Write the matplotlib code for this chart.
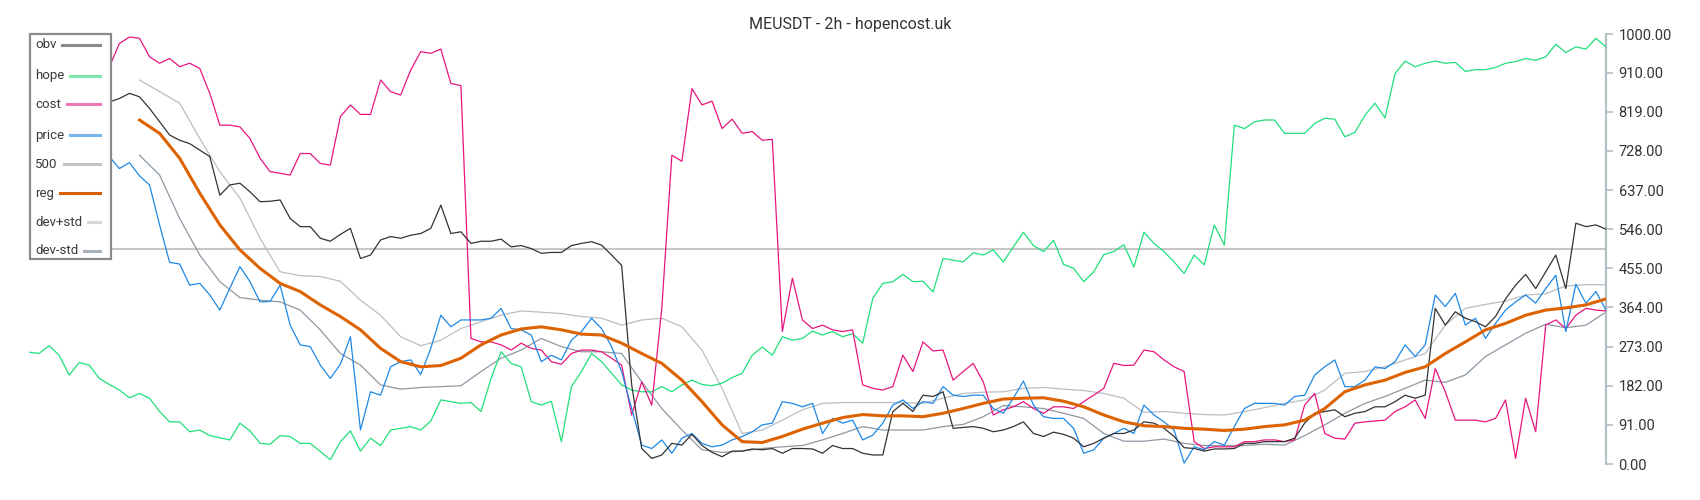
import matplotlib
matplotlib.use('Agg')
import matplotlib.pyplot as plt
import numpy as np
from matplotlib.lines import Line2D
from matplotlib.patches import Rectangle

plt.rcParams['font.family'] = ['Roboto', 'DejaVu Sans']

# Dữ liệu (mỗi điểm ~ 1 nến 2h, lấy mẫu thưa)
hope = [260, 257, 275, 253, 207, 236, 230, 199, 185, 172,
        154, 164, 153, 122, 98, 98, 75, 79, 66, 61,
        56, 95, 77, 48, 46, 66, 64, 48, 48, 29,
        10, 52, 77, 30, 60, 43, 79, 83, 87, 79,
        100, 149, 145, 141, 143, 122, 199, 261, 234, 226,
        145, 137, 146, 52, 180, 215, 257, 238, 211, 184,
        172, 168, 168, 180, 168, 184, 195, 185, 182, 188,
        201, 211, 253, 272, 253, 296, 288, 292, 309, 300,
        308, 296, 303, 281, 385, 420, 424, 441, 424, 425,
        400, 478, 474, 470, 491, 486, 498, 470, 505, 539,
        508, 494, 520, 464, 455, 424, 447, 487, 494, 510,
        458, 539, 513, 494, 470, 443, 486, 463, 556, 509,
        788, 780, 796, 800, 800, 769, 769, 769, 792, 804,
        802, 761, 771, 811, 839, 805, 908, 937, 924, 932,
        937, 932, 934, 913, 917, 917, 922, 932, 936, 943,
        939, 947, 976, 957, 970, 965, 990, 970]

cost = [860, 875, 890, 905, 900, 915, 930, 920, 924, 978,
        993, 990, 947, 932, 943, 924, 932, 920, 862, 788,
        788, 784, 757, 711, 680, 676, 672, 722, 722, 699,
        695, 808, 835, 813, 813, 893, 866, 858, 916, 959,
        955, 965, 885, 880, 292, 284, 284, 277, 265, 281,
        269, 265, 238, 232, 257, 265, 265, 261, 246, 230,
        114, 191, 137, 362, 718, 704, 873, 835, 844, 780,
        802, 769, 773, 753, 755, 308, 432, 335, 315, 323,
        312, 308, 312, 184, 176, 172, 180, 253, 215, 284,
        263, 265, 195, 215, 234, 191, 114, 126, 133, 145,
        129, 118, 133, 133, 129, 145, 160, 176, 234, 229,
        230, 265, 261, 242, 226, 215, 52, 36, 40, 40,
        40, 52, 52, 56, 56, 52, 56, 137, 164, 71,
        60, 58, 95, 98, 100, 102, 122, 133, 149, 106,
        222, 168, 102, 102, 102, 98, 106, 149, 13, 153,
        75, 323, 335, 315, 346, 362, 358, 356]

price = [740, 735, 745, 730, 725, 735, 720, 718, 715, 687,
         701, 670, 649, 556, 469, 465, 416, 420, 393, 358,
         409, 459, 424, 377, 378, 416, 323, 277, 273, 230,
         199, 232, 296, 79, 168, 160, 226, 238, 242, 208,
         269, 346, 319, 335, 335, 335, 339, 362, 315, 312,
         300, 238, 253, 242, 288, 308, 339, 315, 273, 215,
         129, 44, 36, 56, 25, 60, 71, 48, 40, 44,
         56, 64, 75, 91, 95, 145, 141, 133, 141, 71,
         106, 95, 102, 56, 67, 95, 137, 149, 129, 145,
         141, 180, 160, 157, 160, 160, 129, 118, 153, 193,
         137, 110, 106, 106, 83, 25, 33, 60, 71, 83,
         71, 137, 114, 98, 79, 2, 40, 33, 52, 44,
         87, 129, 141, 141, 141, 137, 157, 160, 207, 226,
         242, 180, 180, 195, 226, 222, 238, 277, 250, 277,
         393, 366, 397, 323, 339, 292, 327, 358, 377, 393,
         374, 408, 439, 308, 418, 374, 401, 358]

obv = [830, 845, 860, 850, 835, 845, 855, 848, 842, 850,
       862, 854, 827, 796, 765, 753, 745, 730, 715, 625,
       649, 653, 633, 610, 611, 614, 571, 552, 552, 525,
       518, 534, 548, 478, 486, 521, 529, 525, 532, 536,
       548, 602, 536, 540, 513, 518, 518, 523, 505, 508,
       501, 490, 492, 492, 508, 513, 517, 509, 486, 462,
       184, 36, 13, 21, 48, 44, 69, 43, 27, 17,
       30, 30, 35, 33, 36, 25, 36, 36, 35, 25,
       43, 36, 36, 25, 21, 21, 122, 141, 122, 160,
       157, 168, 83, 85, 87, 83, 75, 79, 87, 98,
       71, 64, 74, 69, 60, 40, 48, 60, 71, 71,
       79, 98, 95, 83, 64, 38, 36, 30, 35, 35,
       36, 48, 48, 52, 52, 52, 60, 95, 118, 122,
       126, 110, 118, 122, 133, 133, 145, 160, 153, 160,
       362, 323, 354, 339, 331, 319, 343, 384, 416, 441,
       408, 447, 486, 408, 560, 552, 556, 546]

level_500 = 500

# Đường hồi quy và dải độ lệch (bắt đầu từ nến 11, mỗi 2 nến)
reg = [800, 769, 711, 630, 556, 498, 455, 420, 401, 370,
       343, 312, 269, 238, 226, 229, 246, 277, 300, 314,
       319, 312, 302, 300, 281, 257, 234, 195, 145, 91,
       52, 50, 64, 81, 95, 108, 115, 112, 112, 110,
       118, 129, 141, 151, 153, 154, 146, 133, 114, 98,
       89, 87, 83, 81, 78, 81, 87, 91, 102, 129,
       168, 184, 195, 213, 226, 257, 284, 312, 327, 346,
       358, 363, 370, 384]

dev_plus = [893, 866, 839, 757, 680, 618, 525, 447, 438, 436,
            425, 381, 346, 296, 275, 288, 315, 331, 346, 356,
            353, 350, 343, 339, 323, 335, 339, 319, 265, 176,
            71, 79, 102, 126, 141, 143, 143, 143, 143, 141,
            153, 164, 167, 168, 176, 178, 174, 171, 164, 153,
            120, 122, 118, 115, 114, 122, 131, 141, 149, 172,
            211, 215, 226, 242, 257, 323, 362, 371, 379, 393,
            396, 414, 417, 417]

dev_minus = [718, 672, 571, 486, 424, 387, 381, 377, 358, 312,
             257, 230, 184, 174, 178, 180, 182, 215, 246, 265,
             292, 273, 261, 261, 257, 191, 129, 79, 33, 27,
             30, 36, 40, 43, 56, 71, 87, 79, 79, 79,
             87, 92, 110, 136, 133, 129, 118, 106, 71, 53,
             53, 58, 48, 43, 43, 43, 46, 44, 66, 91,
             118, 141, 157, 176, 195, 190, 207, 250, 277, 304,
             325, 317, 323, 353]

yticks = [0, 91, 182, 273, 364, 455, 546, 637, 728, 819, 910, 1000]

idx = np.arange(len(hope))
band_idx = np.arange(11, 11 + 2 * len(reg), 2)

fig = plt.figure(figsize=(17, 5), dpi=100)
ax = fig.add_axes([29 / 1700, 36 / 500, (1606 - 29) / 1700, 430 / 500])

ax.axhline(level_500, color='#c6c6c6', lw=1.5, zorder=1)
ax.plot(band_idx, dev_minus, color='#8d98a3', lw=0.9, zorder=2)
ax.plot(band_idx, dev_plus, color='#b7bec5', lw=0.9, zorder=2)
ax.plot(idx, hope, color='#1fe07a', lw=0.9, zorder=3)
ax.plot(idx, cost, color='#e8157f', lw=0.9, zorder=3)
ax.plot(idx, price, color='#1e88e5', lw=0.9, zorder=4)
ax.plot(idx, obv, color='#333333', lw=0.9, zorder=4)
ax.plot(band_idx, reg, color='#dd6200', lw=2.2, zorder=5)

ax.set_xlim(0, len(hope) - 1)
ax.set_ylim(0, 1000)
for s in ['left', 'top', 'bottom']:
    ax.spines[s].set_visible(False)
ax.spines['right'].set_color('#b4bcc4')
ax.spines['right'].set_linewidth(1.5)
ax.yaxis.tick_right()
ax.set_yticks(yticks)
ax.set_yticklabels([f'{t:.2f}' for t in yticks])
ax.tick_params(axis='y', length=5, width=1.2, color='#b4bcc4',
               labelsize=10.5, labelcolor='#333333', pad=4)
ax.set_xticks([])

fig.text(0.5, 1 - 24 / 500, 'MEUSDT - 2h - hopencost.uk',
         ha='center', va='center', fontsize=11.5, color='#333333')

# Chú thích vẽ tay: nhãn bên trái, mẫu đường căn phải
legend_items = [('obv', '#8a8a8a'), ('hope', '#7ee8ab'), ('cost', '#ef77b6'),
                ('price', '#79b6ee'), ('500', '#c4c4c4'), ('reg', '#d86000'),
                ('dev+std', '#d3d7db'), ('dev-std', '#a8b1b9')]
legend_y = [45, 76, 104, 135, 164, 193, 222, 251]

box = Rectangle((30 / 1700, 1 - 259 / 500), 81 / 1700, 225 / 500,
                transform=fig.transFigure, facecolor='white',
                edgecolor='#8a8a8a', lw=1.6, zorder=10)
fig.add_artist(box)

labels = []
for (name, col), y in zip(legend_items, legend_y):
    t = fig.text(35 / 1700, 1 - y / 500, name, ha='left', va='center',
                 fontsize=9.5, color='#3a3a3a', zorder=11)
    labels.append(t)

fig.canvas.draw()
renderer = fig.canvas.get_renderer()
for t, (name, col), y in zip(labels, legend_items, legend_y):
    x_end = t.get_window_extent(renderer).x1
    ln = Line2D([(x_end + 6) / 1700, 100 / 1700], [1 - y / 500, 1 - y / 500],
                transform=fig.transFigure, color=col, lw=2.2, zorder=11)
    fig.add_artist(ln)

fig.savefig('out.png', dpi=100)
